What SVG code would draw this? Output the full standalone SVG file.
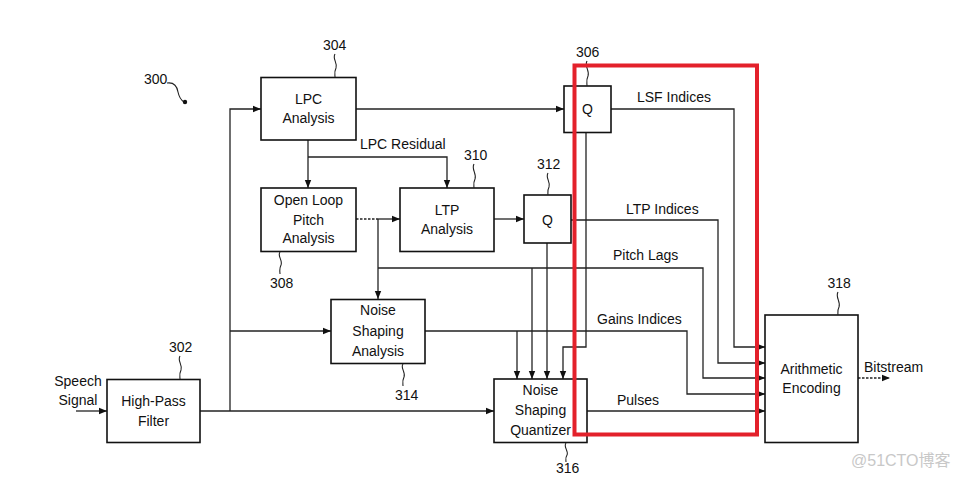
<svg xmlns="http://www.w3.org/2000/svg" width="960" height="477" viewBox="0 0 960 477">
<style>
.box{fill:#fff;stroke:#111;stroke-width:1.6}
.t{font-family:"Liberation Sans",Arial,sans-serif;font-size:14px;fill:#111;text-anchor:middle}
.l{font-family:"Liberation Sans",Arial,sans-serif;font-size:14px;fill:#111}
.c{fill:none;stroke:#222;stroke-width:1.3}
.d{stroke-dasharray:2.5 1.5}
.sq{fill:none;stroke:#222;stroke-width:1.1}
</style>
<defs>
<marker id="a" markerUnits="userSpaceOnUse" markerWidth="8" markerHeight="8" refX="8" refY="4" orient="auto">
<path d="M0,0.8 L8,4 L0,7.2 Z" fill="#111"/>
</marker>
</defs>
<rect width="960" height="477" fill="#fff"/>
<g id="connectors">
<path class="c" d="M76,411 H107" marker-end="url(#a)"/>
<path class="c" d="M200,411 H494" marker-end="url(#a)"/>
<path class="c" d="M230,411 V109 H261" marker-end="url(#a)"/>
<path class="c" d="M230,331 H331" marker-end="url(#a)"/>
<path class="c" d="M356,109 H564" marker-end="url(#a)"/>
<path class="c" d="M308,140 V188" marker-end="url(#a)"/>
<path class="c" d="M308,157 H447 V188" marker-end="url(#a)"/>
<path class="c d" d="M356,219 H378"/>
<path class="c" d="M378,219 H400" marker-end="url(#a)"/>
<path class="c" d="M378,219 V299" marker-end="url(#a)"/>
<path class="c" d="M378,268 H703 V378 H765" marker-end="url(#a)"/>
<path class="c" d="M494,219 H524" marker-end="url(#a)"/>
<path class="c" d="M571,220 H718 V363 H765" marker-end="url(#a)"/>
<path class="c" d="M611,109 H734 V347 H765" marker-end="url(#a)"/>
<path class="c" d="M425,331 H687 V394 H765" marker-end="url(#a)"/>
<path class="c" d="M587,411 H765" marker-end="url(#a)"/>
<path class="c d" d="M858,378 H890" marker-end="url(#a)"/>
<path class="c" d="M517,331 V379" marker-end="url(#a)"/>
<path class="c" d="M532,268 V379" marker-end="url(#a)"/>
<path class="c" d="M547,243 V379" marker-end="url(#a)"/>
<path class="c" d="M586,132 V347 H563 V379" marker-end="url(#a)"/>
</g>
<g id="n300">
<text class="l" x="144" y="84">300</text>
<path class="sq" d="M167,83 C174,82 177,86 178,92 C179,97 181,100 184,102"/>
<circle cx="185" cy="102" r="2.2" fill="#111"/>
</g>
<g id="n302">
<rect class="box" x="107" y="379.5" width="93" height="63"/>
<text class="t" x="153.5" y="406">High-Pass</text>
<text class="t" x="153.5" y="426">Filter</text>
<text class="l" x="169" y="352">302</text>
<path class="sq" d="M180,356 C177,361 183,365 181,370 C179,374 180,377 180,379"/>
</g>
<g id="speech">
<text class="t" x="78" y="386">Speech</text>
<text class="t" x="78" y="405">Signal</text>
</g>
<g id="n304">
<rect class="box" x="261" y="77.5" width="95" height="62.5"/>
<text class="t" x="308.5" y="104">LPC</text>
<text class="t" x="308.5" y="123">Analysis</text>
<text class="l" x="323" y="50">304</text>
<path class="sq" d="M335,54 C332,59 338,63 336,68 C334,72 335,75 335,77"/>
</g>
<g id="n306">
<rect class="box" x="564" y="86" width="47" height="46.5"/>
<text class="t" x="587.5" y="114">Q</text>
<text class="l" x="576" y="57">306</text>
<path class="sq" d="M587,61 C584,66 590,71 588,76 C586,80 587,83 587,86"/>
</g>
<g id="n308">
<rect class="box" x="261" y="188" width="95" height="63.5"/>
<text class="t" x="308.5" y="205">Open Loop</text>
<text class="t" x="308.5" y="224.5">Pitch</text>
<text class="t" x="308.5" y="243">Analysis</text>
<text class="l" x="270" y="288">308</text>
<path class="sq" d="M280,252 C277,256 283,260 281,265 C279,269 280,272 280,274"/>
</g>
<g id="n310">
<rect class="box" x="400" y="188" width="94" height="63.5"/>
<text class="t" x="447" y="215">LTP</text>
<text class="t" x="447" y="234">Analysis</text>
<text class="l" x="464" y="160">310</text>
<path class="sq" d="M474,164 C471,169 477,174 475,179 C473,183 474,186 474,188"/>
</g>
<g id="residual">
<text class="l" x="360" y="149">LPC Residual</text>
</g>
<g id="n312">
<rect class="box" x="524" y="195" width="47" height="48"/>
<text class="t" x="547.5" y="225">Q</text>
<text class="l" x="537" y="169">312</text>
<path class="sq" d="M548,173 C545,178 551,182 549,187 C547,191 548,193 548,195"/>
</g>
<g id="n314">
<rect class="box" x="331" y="299.5" width="94" height="64"/>
<text class="t" x="378" y="315">Noise</text>
<text class="t" x="378" y="335.5">Shaping</text>
<text class="t" x="378" y="356">Analysis</text>
<text class="l" x="395" y="400">314</text>
<path class="sq" d="M403,364 C400,368 406,372 404,377 C402,381 403,384 403,386"/>
</g>
<g id="n316">
<rect class="box" x="494" y="379" width="93" height="63.5"/>
<text class="t" x="540.5" y="394.5">Noise</text>
<text class="t" x="540.5" y="415">Shaping</text>
<text class="t" x="540.5" y="435">Quantizer</text>
<text class="l" x="556" y="473">316</text>
<path class="sq" d="M566,443 C563,447 569,451 567,455 C565,458 566,460 566,462"/>
</g>
<g id="n318">
<rect class="box" x="765" y="315" width="93" height="127.5"/>
<text class="t" x="811.5" y="373.5">Arithmetic</text>
<text class="t" x="811.5" y="393">Encoding</text>
<text class="l" x="827.5" y="288">318</text>
<path class="sq" d="M838,292 C835,297 841,302 839,307 C837,311 838,313 838,315"/>
</g>
<g id="labels">
<text class="l" x="637" y="102">LSF Indices</text>
<text class="l" x="626" y="214">LTP Indices</text>
<text class="l" x="613" y="260">Pitch Lags</text>
<text class="l" x="597" y="323.5">Gains Indices</text>
<text class="l" x="617" y="405">Pulses</text>
<text class="l" x="864" y="372">Bitstream</text>
</g>
<rect id="highlight" x="574.5" y="65.5" width="182.5" height="369" fill="none" stroke="#e3212b" stroke-width="4"/>
<text x="851" y="466" font-family="'Liberation Sans','Noto Sans CJK SC',sans-serif" font-size="16" fill="#c8c8c8">@51CTO博客</text>
</svg>
